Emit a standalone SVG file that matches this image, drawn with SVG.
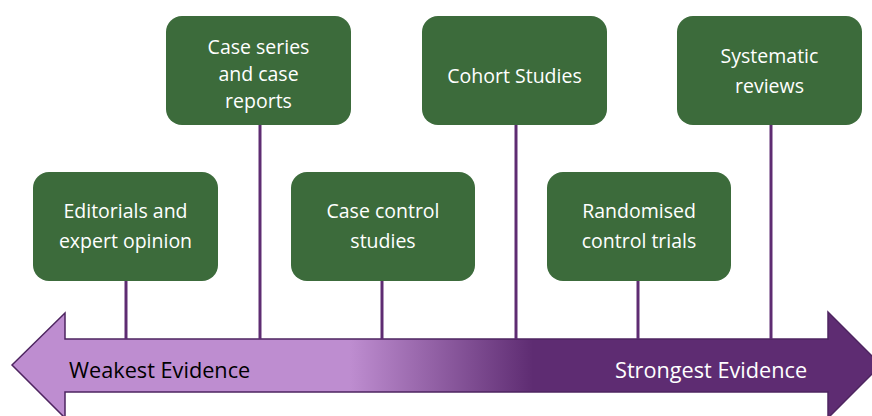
<svg xmlns="http://www.w3.org/2000/svg" width="872" height="416" viewBox="0 0 872 416">
<defs>
<style>
.box{fill:#3C6B3B;}
.bt{font-family:"Open Sans","Liberation Sans",Arial,sans-serif;font-size:19.5px;fill:#ffffff;text-anchor:middle;}
.conn{stroke:#5E2C72;stroke-width:3;fill:none;}
.lbl{font-family:"Open Sans","Liberation Sans",Arial,sans-serif;font-size:21.7px;}
</style>
<linearGradient id="grad" gradientUnits="userSpaceOnUse" x1="350" y1="0" x2="533" y2="0">
<stop offset="0" stop-color="#BE8DD0"/>
<stop offset="1" stop-color="#5E2C72"/>
</linearGradient>
</defs>
<rect width="872" height="416" fill="#ffffff"/>
<g id="arrow">
<path d="M12,365 L65,313 L65,339 L828,339 L828,312 L881,365 L828,418 L828,392 L65,392 L65,418 Z" fill="url(#grad)" stroke="#4E2560" stroke-width="1.5"/>
<text class="lbl" x="69" y="378" fill="#000000">Weakest Evidence</text>
<text class="lbl" x="615" y="378" fill="#ffffff">Strongest Evidence</text>
</g>
<g id="connectors">
<line class="conn" x1="126" y1="281" x2="126" y2="339"/>
<line class="conn" x1="260" y1="125" x2="260" y2="339"/>
<line class="conn" x1="382" y1="281" x2="382" y2="339"/>
<line class="conn" x1="516" y1="125" x2="516" y2="339"/>
<line class="conn" x1="638" y1="281" x2="638" y2="339"/>
<line class="conn" x1="771" y1="125" x2="771" y2="339"/>
</g>
<g id="editorials">
<rect class="box" x="33" y="172" width="185" height="109" rx="16"/>
<text class="bt" x="125.5" y="218">Editorials and</text>
<text class="bt" x="125.5" y="248">expert opinion</text>
</g>
<g id="caseseries">
<rect class="box" x="166" y="16" width="185" height="109" rx="16"/>
<text class="bt" x="258.5" y="54">Case series</text>
<text class="bt" x="258.5" y="81">and case</text>
<text class="bt" x="258.5" y="108">reports</text>
</g>
<g id="casecontrol">
<rect class="box" x="291" y="172" width="184" height="109" rx="16"/>
<text class="bt" x="383" y="218">Case control</text>
<text class="bt" x="383" y="248">studies</text>
</g>
<g id="cohort">
<rect class="box" x="422" y="16" width="185" height="109" rx="16"/>
<text class="bt" x="514.5" y="83">Cohort Studies</text>
</g>
<g id="rct">
<rect class="box" x="547" y="172" width="184" height="109" rx="16"/>
<text class="bt" x="639" y="218">Randomised</text>
<text class="bt" x="639" y="248">control trials</text>
</g>
<g id="systematic">
<rect class="box" x="677" y="16" width="185" height="109" rx="16"/>
<text class="bt" x="769.5" y="63">Systematic</text>
<text class="bt" x="769.5" y="93">reviews</text>
</g>
</svg>
